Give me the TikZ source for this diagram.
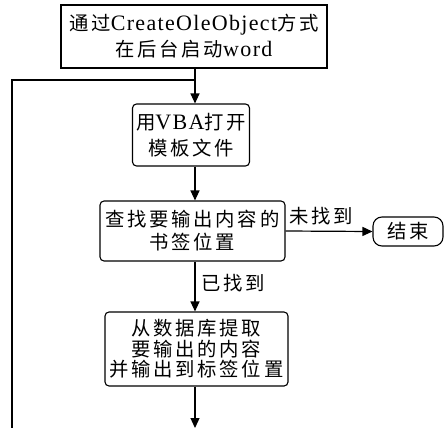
\documentclass[tikz,border=0pt]{standalone}
\usepackage{fontspec}
\setmainfont[LetterSpace=6]{Liberation Serif}
\newfontfamily\cjk[LetterSpace=14,Scale=0.88]{Noto Sans CJK SC}
\usetikzlibrary{arrows.meta}

\tikzset{
  flowbox/.style={draw, line width=1.1pt, align=center, inner sep=0pt},
  roundbox/.style={flowbox, rounded corners=4pt},
  flowline/.style={line width=1.2pt},
  flowarrow/.style={flowline, -{Triangle[length=10pt,width=9pt]}}
}

\begin{document}
\begin{tikzpicture}[x=1pt,y=1pt,yscale=-1,xscale=1,font=\fontsize{22}{26}\selectfont]
\useasboundingbox (0,0) rectangle (446,428);

% Boxes
\node [flowbox, minimum width=266pt, minimum height=63pt] (start) at (194,36.5)
  {{\cjk 通过}CreateOleObject{\cjk 方式}\\{\cjk 在后台启动}word};
\node [roundbox, minimum width=117pt, minimum height=62pt] (open) at (191,135)
  {{\cjk 用}VBA{\cjk 打开}\\{\cjk 模板文件}};
\node [roundbox, minimum width=185pt, minimum height=60pt, font=\fontsize{22}{23}\selectfont] (find) at (192.5,231)
  {\cjk 查找要输出内容的\\\cjk 书签位置};
\node [roundbox, minimum width=183pt, minimum height=74pt, font=\fontsize{22}{20.5}\selectfont] (fill) at (196.5,349)
  {\cjk 从数据库提取\ \\\cjk 要输出的内容\\\cjk 并输出到标签位置};
\node [flowbox, rounded corners=9pt, minimum width=70pt, minimum height=29pt] (stop) at (408,231.5)
  {\cjk 结束};

% Loop and free ends
\coordinate (join) at (195,80);
\coordinate (loopTop) at (12,80);
\coordinate (loopBot) at (12,428);
\coordinate (outEnd) at (195,428);

% Connectors
\draw [flowarrow] (start.south -| join) -- (open.north -| join);
\draw [flowline] (join) -- (loopTop) -- (loopBot);
\draw [flowarrow] (open.south -| join) -- (find.north -| join);
\draw [flowarrow] (find.east) -- (stop.west);
\draw [flowarrow] (find.south -| join) -- (fill.north -| join);
\draw [flowarrow] (fill.south -| join) -- (outEnd);

% Text Node
\node (notFound) at (321,216) {\cjk 未找到};
% Text Node
\node (found) at (233,283) {\cjk 已找到};

\end{tikzpicture}
\end{document}
